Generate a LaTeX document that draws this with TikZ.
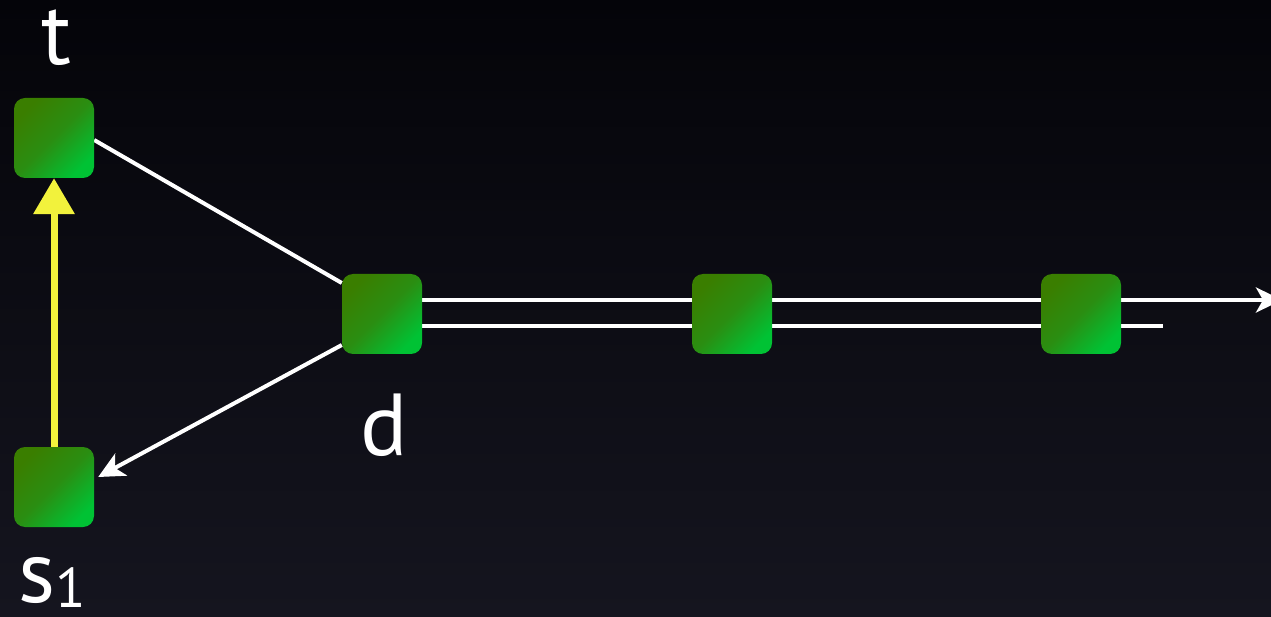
\documentclass[tikz,border=0pt]{standalone}
\usepackage{fontspec}
\setmainfont{PT Sans}
\usetikzlibrary{arrows.meta,calc}
\pgfdeclarelayer{back}
\pgfdeclarelayer{mid}
\pgfsetlayers{back,mid,main}
\definecolor{bgtop}{HTML}{040409}
\definecolor{bgbot}{HTML}{15151F}
\definecolor{gdark}{HTML}{3A7E00}
\definecolor{gmid}{HTML}{2A8E12}
\definecolor{glight}{HTML}{00C234}
\definecolor{yel}{HTML}{F2F23C}
\tikzset{
  sq/.style={minimum width=80pt,minimum height=80pt,inner sep=0pt,rounded corners=11pt,
    shading=axis,left color=gdark,right color=glight,middle color=gmid,shading angle=45},
  wline/.style={draw=white,line width=4pt},
  warrow/.style={wline,-{Stealth[length=26pt,width=25pt,inset=7pt]}},
  yarrow/.style={draw=yel,line width=7pt,-{Triangle[length=36pt,width=40pt]}},
  lbl/.style={text=white,font=\fontsize{88}{88}\selectfont,inner sep=0pt}
}
\begin{document}
\begin{tikzpicture}[x=1pt,y=-1pt]
\begin{pgfonlayer}{back}
\shade[top color=bgtop,bottom color=bgbot] (0,0) rectangle (1271,617);
\end{pgfonlayer}
\useasboundingbox (0,0) rectangle (1271,617);
\node[sq] (t) at (54,138) {};
\node[sq] (s) at (54,487) {};
\node[sq] (d) at (382,314) {};
\node[sq] (n2) at (732,314) {};
\node[sq] (n3) at (1081,314) {};
\coordinate (endA) at (1282,300);
\coordinate (endB) at (1163,326);
\node[lbl,anchor=base] (tl) at (56,65) {t};
\node[lbl,anchor=base] (dl) at (384,455) {d};
\node[lbl,anchor=base west] (sl) at (18,602) {s\raisebox{-5pt}{\fontsize{56}{56}\selectfont 1}};
\begin{pgfonlayer}{mid}
\draw[wline] ($(t.east)+(0,2)$) -- ($(d.west)+(0,-31)$);
\draw[warrow] ($(d.west)+(0,31)$) -- ($(s.east)+(4,-10)$);
\draw[yarrow] (s.north) -- (t.south);
\draw[warrow] ($(d.east)+(0,-14)$) -- (endA);
\draw[wline] ($(d.east)+(0,12)$) -- (endB);
\end{pgfonlayer}
\end{tikzpicture}
\end{document}
